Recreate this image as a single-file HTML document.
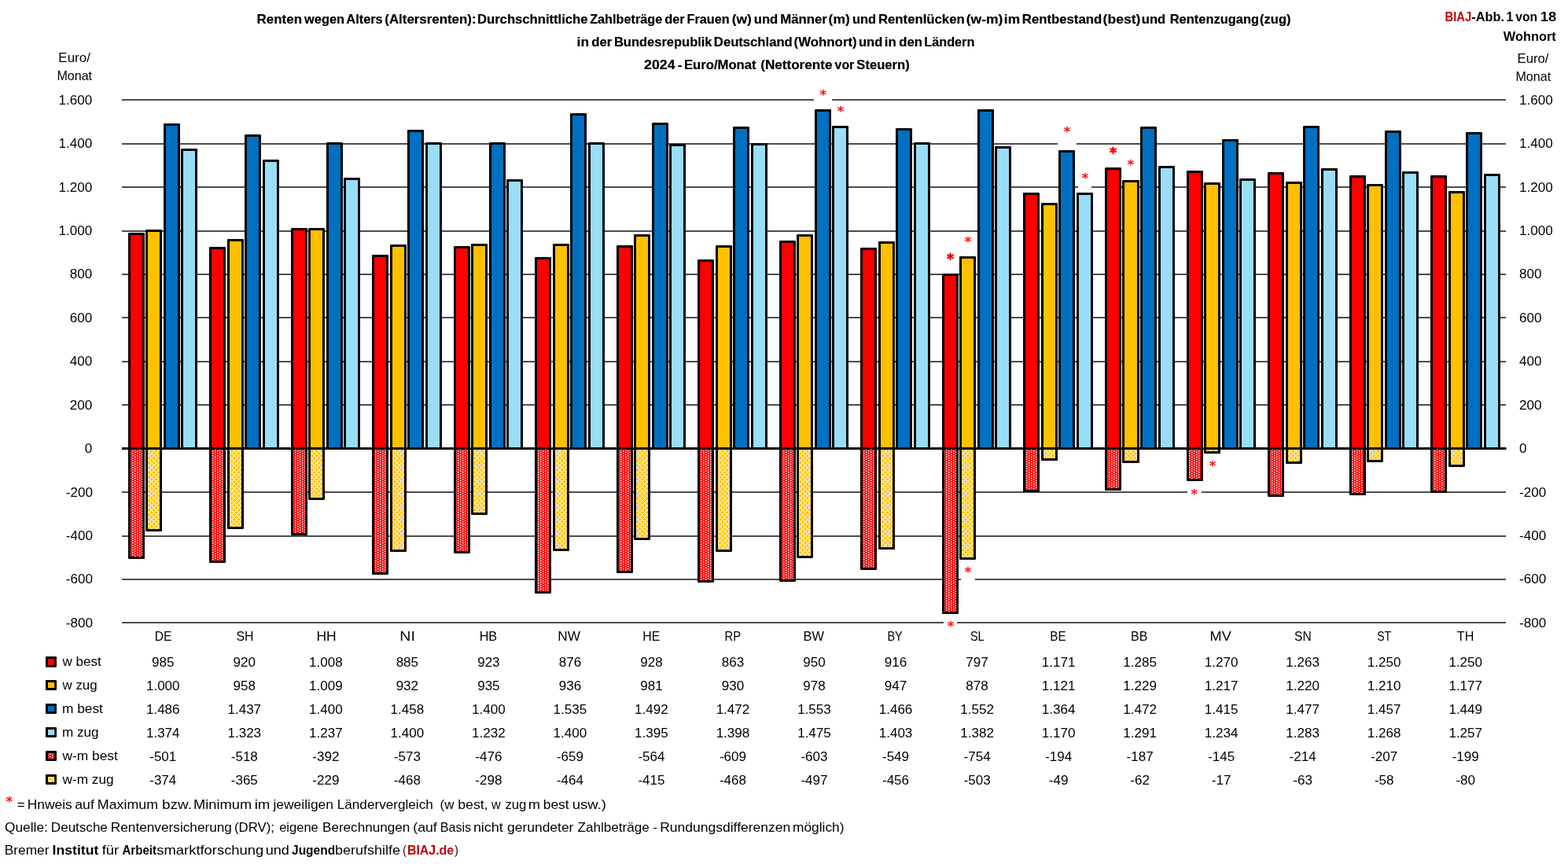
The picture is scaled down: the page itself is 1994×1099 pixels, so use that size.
<!DOCTYPE html>
<html lang="de"><head><meta charset="utf-8"><title>BIAJ-Abb. 1 von 18</title><style>html,body{margin:0;padding:0;background:#fff}body{width:1994px;height:1099px}svg{display:block}text{white-space:pre}</style></head><body>
<svg width="1994" height="1099" viewBox="0 0 1994 1099">
<defs>
<pattern id="pr" width="6" height="3" patternUnits="userSpaceOnUse"><rect width="6" height="3" fill="#FF0000"/><g fill="#fff"><rect x="0" y="0" width="1.5" height="1.5"/><rect x="3" y="1.5" width="1.5" height="1.5"/></g></pattern>
<pattern id="po" width="6" height="6" patternUnits="userSpaceOnUse"><rect width="6" height="6" fill="#FFC000"/><g fill="#fff"><rect x="0" y="0" width="1.5" height="1.5"/><rect x="1.5" y="1.5" width="1.5" height="1.5"/><rect x="4.5" y="1.5" width="1.5" height="1.5"/><rect x="3" y="3" width="1.5" height="1.5"/><rect x="1.5" y="4.5" width="1.5" height="1.5"/><rect x="4.5" y="4.5" width="1.5" height="1.5"/></g></pattern>
</defs>
<rect width="1994" height="1099" fill="#fff"/>
<g fill="#4d4d4d">
<rect x="155" y="126" width="1760" height="2"/>
<rect x="155" y="182" width="1760" height="2"/>
<rect x="155" y="237" width="1760" height="2"/>
<rect x="155" y="293" width="1760" height="2"/>
<rect x="155" y="348" width="1760" height="2"/>
<rect x="155" y="403" width="1760" height="2"/>
<rect x="155" y="459" width="1760" height="2"/>
<rect x="155" y="514" width="1760" height="2"/>
<rect x="155" y="625" width="1760" height="2"/>
<rect x="155" y="681" width="1760" height="2"/>
<rect x="155" y="736" width="1760" height="2"/>
<rect x="155" y="791" width="1760" height="2"/>
</g>
<rect x="1035" y="123" width="23" height="8" fill="#fff"/>
<rect x="1345" y="179" width="24" height="8" fill="#fff"/>
<rect x="1371" y="234" width="17" height="8" fill="#fff"/>
<rect x="1222" y="733" width="18" height="8" fill="#fff"/>
<rect x="1200" y="788" width="17" height="8" fill="#fff"/>
<rect x="1510" y="622" width="18" height="8" fill="#fff"/>
<rect x="163" y="296" width="21" height="276" rx="1.2" fill="#000"/>
<rect x="166" y="299" width="15" height="270" fill="#FF0000"/>
<rect x="185" y="292" width="21" height="280" rx="1.2" fill="#000"/>
<rect x="188" y="295" width="15" height="274" fill="#FFC000"/>
<rect x="208" y="157" width="21" height="415" rx="1.2" fill="#000"/>
<rect x="211" y="160" width="15" height="409" fill="#0070C0"/>
<rect x="230" y="189" width="21" height="383" rx="1.2" fill="#000"/>
<rect x="233" y="192" width="15" height="377" fill="#99DDF7"/>
<rect x="163" y="569" width="21" height="142" rx="1.2" fill="#000"/>
<rect x="166" y="572" width="15" height="136" fill="url(#pr)"/>
<rect x="185" y="569" width="21" height="107" rx="1.2" fill="#000"/>
<rect x="188" y="572" width="15" height="101" fill="url(#po)"/>
<rect x="266" y="314" width="21" height="258" rx="1.2" fill="#000"/>
<rect x="269" y="317" width="15" height="252" fill="#FF0000"/>
<rect x="289" y="304" width="21" height="268" rx="1.2" fill="#000"/>
<rect x="292" y="307" width="15" height="262" fill="#FFC000"/>
<rect x="311" y="171" width="21" height="401" rx="1.2" fill="#000"/>
<rect x="314" y="174" width="15" height="395" fill="#0070C0"/>
<rect x="334" y="203" width="21" height="369" rx="1.2" fill="#000"/>
<rect x="337" y="206" width="15" height="363" fill="#99DDF7"/>
<rect x="266" y="569" width="21" height="147" rx="1.2" fill="#000"/>
<rect x="269" y="572" width="15" height="141" fill="url(#pr)"/>
<rect x="289" y="569" width="21" height="104" rx="1.2" fill="#000"/>
<rect x="292" y="572" width="15" height="98" fill="url(#po)"/>
<rect x="370" y="290" width="21" height="282" rx="1.2" fill="#000"/>
<rect x="373" y="293" width="15" height="276" fill="#FF0000"/>
<rect x="392" y="290" width="21" height="282" rx="1.2" fill="#000"/>
<rect x="395" y="293" width="15" height="276" fill="#FFC000"/>
<rect x="415" y="181" width="21" height="391" rx="1.2" fill="#000"/>
<rect x="418" y="184" width="15" height="385" fill="#0070C0"/>
<rect x="437" y="226" width="21" height="346" rx="1.2" fill="#000"/>
<rect x="440" y="229" width="15" height="340" fill="#99DDF7"/>
<rect x="370" y="569" width="21" height="112" rx="1.2" fill="#000"/>
<rect x="373" y="572" width="15" height="106" fill="url(#pr)"/>
<rect x="392" y="569" width="21" height="67" rx="1.2" fill="#000"/>
<rect x="395" y="572" width="15" height="61" fill="url(#po)"/>
<rect x="473" y="324" width="21" height="248" rx="1.2" fill="#000"/>
<rect x="476" y="327" width="15" height="242" fill="#FF0000"/>
<rect x="496" y="311" width="21" height="261" rx="1.2" fill="#000"/>
<rect x="499" y="314" width="15" height="255" fill="#FFC000"/>
<rect x="518" y="165" width="21" height="407" rx="1.2" fill="#000"/>
<rect x="521" y="168" width="15" height="401" fill="#0070C0"/>
<rect x="541" y="181" width="21" height="391" rx="1.2" fill="#000"/>
<rect x="544" y="184" width="15" height="385" fill="#99DDF7"/>
<rect x="473" y="569" width="21" height="162" rx="1.2" fill="#000"/>
<rect x="476" y="572" width="15" height="156" fill="url(#pr)"/>
<rect x="496" y="569" width="21" height="133" rx="1.2" fill="#000"/>
<rect x="499" y="572" width="15" height="127" fill="url(#po)"/>
<rect x="577" y="313" width="21" height="259" rx="1.2" fill="#000"/>
<rect x="580" y="316" width="15" height="253" fill="#FF0000"/>
<rect x="599" y="310" width="21" height="262" rx="1.2" fill="#000"/>
<rect x="602" y="313" width="15" height="256" fill="#FFC000"/>
<rect x="622" y="181" width="21" height="391" rx="1.2" fill="#000"/>
<rect x="625" y="184" width="15" height="385" fill="#0070C0"/>
<rect x="644" y="228" width="21" height="344" rx="1.2" fill="#000"/>
<rect x="647" y="231" width="15" height="338" fill="#99DDF7"/>
<rect x="577" y="569" width="21" height="135" rx="1.2" fill="#000"/>
<rect x="580" y="572" width="15" height="129" fill="url(#pr)"/>
<rect x="599" y="569" width="21" height="86" rx="1.2" fill="#000"/>
<rect x="602" y="572" width="15" height="80" fill="url(#po)"/>
<rect x="680" y="327" width="21" height="245" rx="1.2" fill="#000"/>
<rect x="683" y="330" width="15" height="239" fill="#FF0000"/>
<rect x="703" y="310" width="21" height="262" rx="1.2" fill="#000"/>
<rect x="706" y="313" width="15" height="256" fill="#FFC000"/>
<rect x="725" y="144" width="21" height="428" rx="1.2" fill="#000"/>
<rect x="728" y="147" width="15" height="422" fill="#0070C0"/>
<rect x="748" y="181" width="21" height="391" rx="1.2" fill="#000"/>
<rect x="751" y="184" width="15" height="385" fill="#99DDF7"/>
<rect x="680" y="569" width="21" height="186" rx="1.2" fill="#000"/>
<rect x="683" y="572" width="15" height="180" fill="url(#pr)"/>
<rect x="703" y="569" width="21" height="132" rx="1.2" fill="#000"/>
<rect x="706" y="572" width="15" height="126" fill="url(#po)"/>
<rect x="784" y="312" width="21" height="260" rx="1.2" fill="#000"/>
<rect x="787" y="315" width="15" height="254" fill="#FF0000"/>
<rect x="806" y="298" width="21" height="274" rx="1.2" fill="#000"/>
<rect x="809" y="301" width="15" height="268" fill="#FFC000"/>
<rect x="829" y="156" width="21" height="416" rx="1.2" fill="#000"/>
<rect x="832" y="159" width="15" height="410" fill="#0070C0"/>
<rect x="851" y="183" width="21" height="389" rx="1.2" fill="#000"/>
<rect x="854" y="186" width="15" height="383" fill="#99DDF7"/>
<rect x="784" y="569" width="21" height="160" rx="1.2" fill="#000"/>
<rect x="787" y="572" width="15" height="154" fill="url(#pr)"/>
<rect x="806" y="569" width="21" height="118" rx="1.2" fill="#000"/>
<rect x="809" y="572" width="15" height="112" fill="url(#po)"/>
<rect x="887" y="330" width="21" height="242" rx="1.2" fill="#000"/>
<rect x="890" y="333" width="15" height="236" fill="#FF0000"/>
<rect x="910" y="312" width="21" height="260" rx="1.2" fill="#000"/>
<rect x="913" y="315" width="15" height="254" fill="#FFC000"/>
<rect x="932" y="161" width="21" height="411" rx="1.2" fill="#000"/>
<rect x="935" y="164" width="15" height="405" fill="#0070C0"/>
<rect x="955" y="182" width="21" height="390" rx="1.2" fill="#000"/>
<rect x="958" y="185" width="15" height="384" fill="#99DDF7"/>
<rect x="887" y="569" width="21" height="172" rx="1.2" fill="#000"/>
<rect x="890" y="572" width="15" height="166" fill="url(#pr)"/>
<rect x="910" y="569" width="21" height="133" rx="1.2" fill="#000"/>
<rect x="913" y="572" width="15" height="127" fill="url(#po)"/>
<rect x="991" y="306" width="21" height="266" rx="1.2" fill="#000"/>
<rect x="994" y="309" width="15" height="260" fill="#FF0000"/>
<rect x="1013" y="298" width="21" height="274" rx="1.2" fill="#000"/>
<rect x="1016" y="301" width="15" height="268" fill="#FFC000"/>
<rect x="1036" y="139" width="21" height="433" rx="1.2" fill="#000"/>
<rect x="1039" y="142" width="15" height="427" fill="#0070C0"/>
<rect x="1058" y="160" width="21" height="412" rx="1.2" fill="#000"/>
<rect x="1061" y="163" width="15" height="406" fill="#99DDF7"/>
<rect x="991" y="569" width="21" height="171" rx="1.2" fill="#000"/>
<rect x="994" y="572" width="15" height="165" fill="url(#pr)"/>
<rect x="1013" y="569" width="21" height="141" rx="1.2" fill="#000"/>
<rect x="1016" y="572" width="15" height="135" fill="url(#po)"/>
<rect x="1094" y="315" width="21" height="257" rx="1.2" fill="#000"/>
<rect x="1097" y="318" width="15" height="251" fill="#FF0000"/>
<rect x="1117" y="307" width="21" height="265" rx="1.2" fill="#000"/>
<rect x="1120" y="310" width="15" height="259" fill="#FFC000"/>
<rect x="1139" y="163" width="21" height="409" rx="1.2" fill="#000"/>
<rect x="1142" y="166" width="15" height="403" fill="#0070C0"/>
<rect x="1162" y="181" width="21" height="391" rx="1.2" fill="#000"/>
<rect x="1165" y="184" width="15" height="385" fill="#99DDF7"/>
<rect x="1094" y="569" width="21" height="156" rx="1.2" fill="#000"/>
<rect x="1097" y="572" width="15" height="150" fill="url(#pr)"/>
<rect x="1117" y="569" width="21" height="130" rx="1.2" fill="#000"/>
<rect x="1120" y="572" width="15" height="124" fill="url(#po)"/>
<rect x="1198" y="348" width="21" height="224" rx="1.2" fill="#000"/>
<rect x="1201" y="351" width="15" height="218" fill="#FF0000"/>
<rect x="1220" y="326" width="21" height="246" rx="1.2" fill="#000"/>
<rect x="1223" y="329" width="15" height="240" fill="#FFC000"/>
<rect x="1243" y="139" width="21" height="433" rx="1.2" fill="#000"/>
<rect x="1246" y="142" width="15" height="427" fill="#0070C0"/>
<rect x="1265" y="186" width="21" height="386" rx="1.2" fill="#000"/>
<rect x="1268" y="189" width="15" height="380" fill="#99DDF7"/>
<rect x="1198" y="569" width="21" height="212" rx="1.2" fill="#000"/>
<rect x="1201" y="572" width="15" height="206" fill="url(#pr)"/>
<rect x="1220" y="569" width="21" height="143" rx="1.2" fill="#000"/>
<rect x="1223" y="572" width="15" height="137" fill="url(#po)"/>
<rect x="1301" y="245" width="21" height="327" rx="1.2" fill="#000"/>
<rect x="1304" y="248" width="15" height="321" fill="#FF0000"/>
<rect x="1324" y="258" width="21" height="314" rx="1.2" fill="#000"/>
<rect x="1327" y="261" width="15" height="308" fill="#FFC000"/>
<rect x="1346" y="191" width="21" height="381" rx="1.2" fill="#000"/>
<rect x="1349" y="194" width="15" height="375" fill="#0070C0"/>
<rect x="1369" y="245" width="21" height="327" rx="1.2" fill="#000"/>
<rect x="1372" y="248" width="15" height="321" fill="#99DDF7"/>
<rect x="1301" y="569" width="21" height="57" rx="1.2" fill="#000"/>
<rect x="1304" y="572" width="15" height="51" fill="url(#pr)"/>
<rect x="1324" y="569" width="21" height="17" rx="1.2" fill="#000"/>
<rect x="1327" y="572" width="15" height="11" fill="url(#po)"/>
<rect x="1405" y="213" width="21" height="359" rx="1.2" fill="#000"/>
<rect x="1408" y="216" width="15" height="353" fill="#FF0000"/>
<rect x="1427" y="229" width="22" height="343" rx="1.2" fill="#000"/>
<rect x="1430" y="232" width="16" height="337" fill="#FFC000"/>
<rect x="1450" y="161" width="21" height="411" rx="1.2" fill="#000"/>
<rect x="1453" y="164" width="15" height="405" fill="#0070C0"/>
<rect x="1473" y="211" width="21" height="361" rx="1.2" fill="#000"/>
<rect x="1476" y="214" width="15" height="355" fill="#99DDF7"/>
<rect x="1405" y="569" width="21" height="55" rx="1.2" fill="#000"/>
<rect x="1408" y="572" width="15" height="49" fill="url(#pr)"/>
<rect x="1427" y="569" width="22" height="20" rx="1.2" fill="#000"/>
<rect x="1430" y="572" width="16" height="14" fill="url(#po)"/>
<rect x="1509" y="217" width="21" height="355" rx="1.2" fill="#000"/>
<rect x="1512" y="220" width="15" height="349" fill="#FF0000"/>
<rect x="1531" y="232" width="21" height="340" rx="1.2" fill="#000"/>
<rect x="1534" y="235" width="15" height="334" fill="#FFC000"/>
<rect x="1554" y="177" width="21" height="395" rx="1.2" fill="#000"/>
<rect x="1557" y="180" width="15" height="389" fill="#0070C0"/>
<rect x="1576" y="227" width="21" height="345" rx="1.2" fill="#000"/>
<rect x="1579" y="230" width="15" height="339" fill="#99DDF7"/>
<rect x="1509" y="569" width="21" height="43" rx="1.2" fill="#000"/>
<rect x="1512" y="572" width="15" height="37" fill="url(#pr)"/>
<rect x="1531" y="569" width="21" height="8" rx="1.2" fill="#000"/>
<rect x="1534" y="572" width="15" height="2" fill="url(#po)"/>
<rect x="1612" y="219" width="21" height="353" rx="1.2" fill="#000"/>
<rect x="1615" y="222" width="15" height="347" fill="#FF0000"/>
<rect x="1635" y="231" width="21" height="341" rx="1.2" fill="#000"/>
<rect x="1638" y="234" width="15" height="335" fill="#FFC000"/>
<rect x="1657" y="160" width="21" height="412" rx="1.2" fill="#000"/>
<rect x="1660" y="163" width="15" height="406" fill="#0070C0"/>
<rect x="1680" y="214" width="21" height="358" rx="1.2" fill="#000"/>
<rect x="1683" y="217" width="15" height="352" fill="#99DDF7"/>
<rect x="1612" y="569" width="21" height="63" rx="1.2" fill="#000"/>
<rect x="1615" y="572" width="15" height="57" fill="url(#pr)"/>
<rect x="1635" y="569" width="21" height="21" rx="1.2" fill="#000"/>
<rect x="1638" y="572" width="15" height="15" fill="url(#po)"/>
<rect x="1716" y="223" width="21" height="349" rx="1.2" fill="#000"/>
<rect x="1719" y="226" width="15" height="343" fill="#FF0000"/>
<rect x="1738" y="234" width="21" height="338" rx="1.2" fill="#000"/>
<rect x="1741" y="237" width="15" height="332" fill="#FFC000"/>
<rect x="1761" y="166" width="21" height="406" rx="1.2" fill="#000"/>
<rect x="1764" y="169" width="15" height="400" fill="#0070C0"/>
<rect x="1783" y="218" width="21" height="354" rx="1.2" fill="#000"/>
<rect x="1786" y="221" width="15" height="348" fill="#99DDF7"/>
<rect x="1716" y="569" width="21" height="61" rx="1.2" fill="#000"/>
<rect x="1719" y="572" width="15" height="55" fill="url(#pr)"/>
<rect x="1738" y="569" width="21" height="19" rx="1.2" fill="#000"/>
<rect x="1741" y="572" width="15" height="13" fill="url(#po)"/>
<rect x="1819" y="223" width="21" height="349" rx="1.2" fill="#000"/>
<rect x="1822" y="226" width="15" height="343" fill="#FF0000"/>
<rect x="1842" y="243" width="21" height="329" rx="1.2" fill="#000"/>
<rect x="1845" y="246" width="15" height="323" fill="#FFC000"/>
<rect x="1864" y="168" width="21" height="404" rx="1.2" fill="#000"/>
<rect x="1867" y="171" width="15" height="398" fill="#0070C0"/>
<rect x="1887" y="221" width="21" height="351" rx="1.2" fill="#000"/>
<rect x="1890" y="224" width="15" height="345" fill="#99DDF7"/>
<rect x="1819" y="569" width="21" height="58" rx="1.2" fill="#000"/>
<rect x="1822" y="572" width="15" height="52" fill="url(#pr)"/>
<rect x="1842" y="569" width="21" height="25" rx="1.2" fill="#000"/>
<rect x="1845" y="572" width="15" height="19" fill="url(#po)"/>
<rect x="155" y="569" width="1760.5" height="3" fill="#000"/>
<rect x="58" y="835" width="14" height="13.8" rx="1" fill="#000"/>
<rect x="61" y="838" width="8.2" height="7.8" fill="#FF0000"/>
<rect x="58" y="865" width="14" height="13" rx="1" fill="#000"/>
<rect x="61" y="868" width="8.2" height="7" fill="#FFC000"/>
<rect x="58" y="895" width="14" height="13" rx="1" fill="#000"/>
<rect x="61" y="898" width="8.2" height="7" fill="#0070C0"/>
<rect x="58" y="925" width="14" height="13" rx="1" fill="#000"/>
<rect x="61" y="928" width="8.2" height="7" fill="#99DDF7"/>
<rect x="58" y="955" width="14" height="13" rx="1" fill="#000"/>
<rect x="61" y="958" width="8.2" height="7" fill="url(#pr)"/>
<rect x="58" y="985" width="14" height="13" rx="1" fill="#000"/>
<rect x="61" y="988" width="8.2" height="7" fill="url(#po)"/>
<g font-family='"Liberation Sans", sans-serif'>
<text transform="matrix(1.0341 0 0 1 326.54 29.8)" font-size="16.4" font-weight="bold" stroke="#000" stroke-width="0.2">Renten</text>
<text transform="matrix(1.0001 0 0 1 387.06 29.8)" font-size="16.4" font-weight="bold" stroke="#000" stroke-width="0.2">wegen</text>
<text transform="matrix(0.9986 0 0 1 440.34 29.8)" font-size="16.4" font-weight="bold" stroke="#000" stroke-width="0.2">Alters</text>
<text transform="matrix(1.0301 0 0 1 489.31 29.8)" font-size="16.4" font-weight="bold" stroke="#000" stroke-width="0.2">(Altersrenten):</text>
<text transform="matrix(1.0155 0 0 1 606.96 29.8)" font-size="16.4" font-weight="bold" stroke="#000" stroke-width="0.2">Durchschnittliche</text>
<text transform="matrix(0.9914 0 0 1 750.15 29.8)" font-size="16.4" font-weight="bold" stroke="#000" stroke-width="0.2">Zahlbeträge</text>
<text transform="matrix(1.0010 0 0 1 845.19 29.8)" font-size="16.4" font-weight="bold" stroke="#000" stroke-width="0.2">der</text>
<text transform="matrix(0.9913 0 0 1 873.58 29.8)" font-size="16.4" font-weight="bold" stroke="#000" stroke-width="0.2">Frauen</text>
<text transform="matrix(1.0664 0 0 1 930.68 29.8)" font-size="16.4" font-weight="bold" stroke="#000" stroke-width="0.2">(w)</text>
<text transform="matrix(1.0164 0 0 1 958.72 29.8)" font-size="16.4" font-weight="bold" stroke="#000" stroke-width="0.2">und</text>
<text transform="matrix(1.0252 0 0 1 992.15 29.8)" font-size="16.4" font-weight="bold" stroke="#000" stroke-width="0.2">Männer</text>
<text transform="matrix(1.0645 0 0 1 1053.58 29.8)" font-size="16.4" font-weight="bold" stroke="#000" stroke-width="0.2">(m)</text>
<text transform="matrix(1.0023 0 0 1 1084.03 29.8)" font-size="16.4" font-weight="bold" stroke="#000" stroke-width="0.2">und</text>
<text transform="matrix(1.0216 0 0 1 1116.95 29.8)" font-size="16.4" font-weight="bold" stroke="#000" stroke-width="0.2">Rentenlücken</text>
<text transform="matrix(1.0647 0 0 1 1228.78 29.8)" font-size="16.4" font-weight="bold" stroke="#000" stroke-width="0.2">(w-m)</text>
<text transform="matrix(1.0577 0 0 1 1276.82 29.8)" font-size="16.4" font-weight="bold" stroke="#000" stroke-width="0.2">im</text>
<text transform="matrix(1.0211 0 0 1 1299.85 29.8)" font-size="16.4" font-weight="bold" stroke="#000" stroke-width="0.2">Rentbestand</text>
<text transform="matrix(1.0720 0 0 1 1402.58 29.8)" font-size="16.4" font-weight="bold" stroke="#000" stroke-width="0.2">(best)</text>
<text transform="matrix(1.0094 0 0 1 1451.82 29.8)" font-size="16.4" font-weight="bold" stroke="#000" stroke-width="0.2">und</text>
<text transform="matrix(1.0045 0 0 1 1487.67 29.8)" font-size="16.4" font-weight="bold" stroke="#000" stroke-width="0.2">Rentenzugang</text>
<text transform="matrix(1.0080 0 0 1 1602.03 29.8)" font-size="16.4" font-weight="bold" stroke="#000" stroke-width="0.2">(zug)</text>
<text transform="matrix(1.0583 0 0 1 733.62 58.7)" font-size="16.4" font-weight="bold" stroke="#000" stroke-width="0.2">in</text>
<text transform="matrix(1.0171 0 0 1 752.28 58.7)" font-size="16.4" font-weight="bold" stroke="#000" stroke-width="0.2">der</text>
<text transform="matrix(1.0056 0 0 1 780.97 58.7)" font-size="16.4" font-weight="bold" stroke="#000" stroke-width="0.2">Bundesrepublik</text>
<text transform="matrix(1.0162 0 0 1 907.86 58.7)" font-size="16.4" font-weight="bold" stroke="#000" stroke-width="0.2">Deutschland</text>
<text transform="matrix(1.0266 0 0 1 1009.61 58.7)" font-size="16.4" font-weight="bold" stroke="#000" stroke-width="0.2">(Wohnort)</text>
<text transform="matrix(1.0094 0 0 1 1091.92 58.7)" font-size="16.4" font-weight="bold" stroke="#000" stroke-width="0.2">und</text>
<text transform="matrix(1.0269 0 0 1 1124.75 58.7)" font-size="16.4" font-weight="bold" stroke="#000" stroke-width="0.2">in</text>
<text transform="matrix(1.0197 0 0 1 1143.28 58.7)" font-size="16.4" font-weight="bold" stroke="#000" stroke-width="0.2">den</text>
<text transform="matrix(0.9908 0 0 1 1175.28 58.7)" font-size="16.4" font-weight="bold" stroke="#000" stroke-width="0.2">Ländern</text>
<text transform="matrix(1.0838 0 0 1 819.04 87.9)" font-size="16.4" font-weight="bold" stroke="#000" stroke-width="0.2">2024</text>
<text transform="matrix(1.0560 0 0 1 861.76 87.9)" font-size="16.4" font-weight="bold" stroke="#000" stroke-width="0.2">-</text>
<text transform="matrix(1.0170 0 0 1 869.96 87.9)" font-size="16.4" font-weight="bold" stroke="#000" stroke-width="0.2">Euro/Monat</text>
<text transform="matrix(1.0441 0 0 1 967.2 87.9)" font-size="16.4" font-weight="bold" stroke="#000" stroke-width="0.2">(Nettorente</text>
<text transform="matrix(0.9649 0 0 1 1061.6 87.9)" font-size="16.4" font-weight="bold" stroke="#000" stroke-width="0.2">vor</text>
<text transform="matrix(1.0126 0 0 1 1089.34 87.9)" font-size="16.4" font-weight="bold" stroke="#000" stroke-width="0.2">Steuern)</text>
<text transform="matrix(0.8898 0 0 1 1837.48 26.8)" font-size="16.6" font-weight="bold" fill="#C00000">BIAJ</text>
<text transform="matrix(0.9851 0 0 1 1871.29 26.8)" font-size="16.6" font-weight="bold">-Abb.</text>
<text transform="matrix(0.9639 0 0 1 1915.4 26.8)" font-size="16.6" font-weight="bold">1</text>
<text transform="matrix(0.9439 0 0 1 1927.2 26.8)" font-size="16.6" font-weight="bold">von</text>
<text transform="matrix(1.1050 0 0 1 1958.85 26.8)" font-size="16.6" font-weight="bold">18</text>
<text transform="matrix(0.9892 0 0 1 1911.7 51.9)" font-size="16.6" font-weight="bold">Wohnort</text>
<text transform="matrix(1.0227 0 0 1 74.32 78.9)" font-size="16.6">Euro/</text>
<text transform="matrix(0.9687 0 0 1 72.38 101.95)" font-size="16.6">Monat</text>
<text transform="matrix(1.0069 0 0 1 1929.59 79.7)" font-size="16.6">Euro/</text>
<text transform="matrix(0.9711 0 0 1 1927.44 103)" font-size="16.6">Monat</text>
<text transform="matrix(1.0430 0 0 1 74.47 132.8)" font-size="16.4">1.600</text>
<text transform="matrix(1.0430 0 0 1 1932 132.8)" font-size="16.4">1.600</text>
<text transform="matrix(1.0430 0 0 1 74.47 188.22)" font-size="16.4">1.400</text>
<text transform="matrix(1.0430 0 0 1 1932 188.22)" font-size="16.4">1.400</text>
<text transform="matrix(1.0430 0 0 1 74.47 243.64)" font-size="16.4">1.200</text>
<text transform="matrix(1.0430 0 0 1 1932 243.64)" font-size="16.4">1.200</text>
<text transform="matrix(1.0430 0 0 1 74.47 299.06)" font-size="16.4">1.000</text>
<text transform="matrix(1.0430 0 0 1 1932 299.06)" font-size="16.4">1.000</text>
<text transform="matrix(1.0430 0 0 1 88.74 354.48)" font-size="16.4">800</text>
<text transform="matrix(1.0430 0 0 1 1932 354.48)" font-size="16.4">800</text>
<text transform="matrix(1.0430 0 0 1 88.74 409.9)" font-size="16.4">600</text>
<text transform="matrix(1.0430 0 0 1 1932 409.9)" font-size="16.4">600</text>
<text transform="matrix(1.0430 0 0 1 88.74 465.32)" font-size="16.4">400</text>
<text transform="matrix(1.0430 0 0 1 1932 465.32)" font-size="16.4">400</text>
<text transform="matrix(1.0430 0 0 1 88.74 520.74)" font-size="16.4">200</text>
<text transform="matrix(1.0430 0 0 1 1932 520.74)" font-size="16.4">200</text>
<text transform="matrix(1.0430 0 0 1 107.76 576.16)" font-size="16.4">0</text>
<text transform="matrix(1.0430 0 0 1 1932 576.16)" font-size="16.4">0</text>
<text transform="matrix(1.0430 0 0 1 83.79 631.58)" font-size="16.4">-200</text>
<text transform="matrix(1.0430 0 0 1 1932 631.58)" font-size="16.4">-200</text>
<text transform="matrix(1.0430 0 0 1 83.79 687)" font-size="16.4">-400</text>
<text transform="matrix(1.0430 0 0 1 1932 687)" font-size="16.4">-400</text>
<text transform="matrix(1.0430 0 0 1 83.79 742.42)" font-size="16.4">-600</text>
<text transform="matrix(1.0430 0 0 1 1932 742.42)" font-size="16.4">-600</text>
<text transform="matrix(1.0430 0 0 1 83.79 797.84)" font-size="16.4">-800</text>
<text transform="matrix(1.0430 0 0 1 1932 797.84)" font-size="16.4">-800</text>
<text transform="matrix(0.9514 0 0 1 196.78 815.1)" font-size="16.4">DE</text>
<text transform="matrix(1.0400 0 0 1 193.04 847.6)" font-size="16.4">985</text>
<text transform="matrix(1.0400 0 0 1 185.92 877.6)" font-size="16.4">1.000</text>
<text transform="matrix(1.0400 0 0 1 185.92 907.6)" font-size="16.4">1.486</text>
<text transform="matrix(1.0400 0 0 1 185.92 937.6)" font-size="16.4">1.374</text>
<text transform="matrix(1.0400 0 0 1 190.2 967.6)" font-size="16.4">-501</text>
<text transform="matrix(1.0400 0 0 1 190.2 997.6)" font-size="16.4">-374</text>
<text transform="matrix(0.9650 0 0 1 300.51 815.1)" font-size="16.4">SH</text>
<text transform="matrix(1.0400 0 0 1 296.57 847.6)" font-size="16.4">920</text>
<text transform="matrix(1.0400 0 0 1 296.57 877.6)" font-size="16.4">958</text>
<text transform="matrix(1.0400 0 0 1 289.45 907.6)" font-size="16.4">1.437</text>
<text transform="matrix(1.0400 0 0 1 289.45 937.6)" font-size="16.4">1.323</text>
<text transform="matrix(1.0400 0 0 1 293.73 967.6)" font-size="16.4">-518</text>
<text transform="matrix(1.0400 0 0 1 293.73 997.6)" font-size="16.4">-365</text>
<text transform="matrix(1.0679 0 0 1 402.43 815.1)" font-size="16.4">HH</text>
<text transform="matrix(1.0400 0 0 1 392.98 847.6)" font-size="16.4">1.008</text>
<text transform="matrix(1.0400 0 0 1 392.98 877.6)" font-size="16.4">1.009</text>
<text transform="matrix(1.0400 0 0 1 392.98 907.6)" font-size="16.4">1.400</text>
<text transform="matrix(1.0400 0 0 1 392.98 937.6)" font-size="16.4">1.237</text>
<text transform="matrix(1.0400 0 0 1 397.26 967.6)" font-size="16.4">-392</text>
<text transform="matrix(1.0400 0 0 1 397.26 997.6)" font-size="16.4">-229</text>
<text transform="matrix(1.1953 0 0 1 508.27 815.1)" font-size="16.4">NI</text>
<text transform="matrix(1.0400 0 0 1 503.63 847.6)" font-size="16.4">885</text>
<text transform="matrix(1.0400 0 0 1 503.63 877.6)" font-size="16.4">932</text>
<text transform="matrix(1.0400 0 0 1 496.51 907.6)" font-size="16.4">1.458</text>
<text transform="matrix(1.0400 0 0 1 496.51 937.6)" font-size="16.4">1.400</text>
<text transform="matrix(1.0400 0 0 1 500.79 967.6)" font-size="16.4">-573</text>
<text transform="matrix(1.0400 0 0 1 500.79 997.6)" font-size="16.4">-468</text>
<text transform="matrix(0.9898 0 0 1 609.63 815.1)" font-size="16.4">HB</text>
<text transform="matrix(1.0400 0 0 1 607.16 847.6)" font-size="16.4">923</text>
<text transform="matrix(1.0400 0 0 1 607.16 877.6)" font-size="16.4">935</text>
<text transform="matrix(1.0400 0 0 1 600.04 907.6)" font-size="16.4">1.400</text>
<text transform="matrix(1.0400 0 0 1 600.04 937.6)" font-size="16.4">1.232</text>
<text transform="matrix(1.0400 0 0 1 604.32 967.6)" font-size="16.4">-476</text>
<text transform="matrix(1.0400 0 0 1 604.32 997.6)" font-size="16.4">-298</text>
<text transform="matrix(1.0537 0 0 1 709.35 815.1)" font-size="16.4">NW</text>
<text transform="matrix(1.0400 0 0 1 710.69 847.6)" font-size="16.4">876</text>
<text transform="matrix(1.0400 0 0 1 710.69 877.6)" font-size="16.4">936</text>
<text transform="matrix(1.0400 0 0 1 703.57 907.6)" font-size="16.4">1.535</text>
<text transform="matrix(1.0400 0 0 1 703.57 937.6)" font-size="16.4">1.400</text>
<text transform="matrix(1.0400 0 0 1 707.85 967.6)" font-size="16.4">-659</text>
<text transform="matrix(1.0400 0 0 1 707.85 997.6)" font-size="16.4">-464</text>
<text transform="matrix(0.9658 0 0 1 817.26 815.1)" font-size="16.4">HE</text>
<text transform="matrix(1.0400 0 0 1 814.22 847.6)" font-size="16.4">928</text>
<text transform="matrix(1.0400 0 0 1 814.22 877.6)" font-size="16.4">981</text>
<text transform="matrix(1.0400 0 0 1 807.1 907.6)" font-size="16.4">1.492</text>
<text transform="matrix(1.0400 0 0 1 807.1 937.6)" font-size="16.4">1.395</text>
<text transform="matrix(1.0400 0 0 1 811.38 967.6)" font-size="16.4">-564</text>
<text transform="matrix(1.0400 0 0 1 811.38 997.6)" font-size="16.4">-415</text>
<text transform="matrix(0.9033 0 0 1 921.44 815.1)" font-size="16.4">RP</text>
<text transform="matrix(1.0400 0 0 1 917.75 847.6)" font-size="16.4">863</text>
<text transform="matrix(1.0400 0 0 1 917.75 877.6)" font-size="16.4">930</text>
<text transform="matrix(1.0400 0 0 1 910.63 907.6)" font-size="16.4">1.472</text>
<text transform="matrix(1.0400 0 0 1 910.63 937.6)" font-size="16.4">1.398</text>
<text transform="matrix(1.0400 0 0 1 914.91 967.6)" font-size="16.4">-609</text>
<text transform="matrix(1.0400 0 0 1 914.91 997.6)" font-size="16.4">-468</text>
<text transform="matrix(1.0004 0 0 1 1021.62 815.1)" font-size="16.4">BW</text>
<text transform="matrix(1.0400 0 0 1 1021.28 847.6)" font-size="16.4">950</text>
<text transform="matrix(1.0400 0 0 1 1021.28 877.6)" font-size="16.4">978</text>
<text transform="matrix(1.0400 0 0 1 1014.16 907.6)" font-size="16.4">1.553</text>
<text transform="matrix(1.0400 0 0 1 1014.16 937.6)" font-size="16.4">1.475</text>
<text transform="matrix(1.0400 0 0 1 1018.44 967.6)" font-size="16.4">-603</text>
<text transform="matrix(1.0400 0 0 1 1018.44 997.6)" font-size="16.4">-497</text>
<text transform="matrix(0.8815 0 0 1 1128.47 815.1)" font-size="16.4">BY</text>
<text transform="matrix(1.0400 0 0 1 1124.81 847.6)" font-size="16.4">916</text>
<text transform="matrix(1.0400 0 0 1 1124.81 877.6)" font-size="16.4">947</text>
<text transform="matrix(1.0400 0 0 1 1117.69 907.6)" font-size="16.4">1.466</text>
<text transform="matrix(1.0400 0 0 1 1117.69 937.6)" font-size="16.4">1.403</text>
<text transform="matrix(1.0400 0 0 1 1121.97 967.6)" font-size="16.4">-549</text>
<text transform="matrix(1.0400 0 0 1 1121.97 997.6)" font-size="16.4">-456</text>
<text transform="matrix(0.8778 0 0 1 1233.95 815.1)" font-size="16.4">SL</text>
<text transform="matrix(1.0400 0 0 1 1228.34 847.6)" font-size="16.4">797</text>
<text transform="matrix(1.0400 0 0 1 1228.34 877.6)" font-size="16.4">878</text>
<text transform="matrix(1.0400 0 0 1 1221.22 907.6)" font-size="16.4">1.552</text>
<text transform="matrix(1.0400 0 0 1 1221.22 937.6)" font-size="16.4">1.382</text>
<text transform="matrix(1.0400 0 0 1 1225.5 967.6)" font-size="16.4">-754</text>
<text transform="matrix(1.0400 0 0 1 1225.5 997.6)" font-size="16.4">-503</text>
<text transform="matrix(0.9293 0 0 1 1335.31 815.1)" font-size="16.4">BE</text>
<text transform="matrix(1.0400 0 0 1 1324.75 847.6)" font-size="16.4">1.171</text>
<text transform="matrix(1.0400 0 0 1 1324.75 877.6)" font-size="16.4">1.121</text>
<text transform="matrix(1.0400 0 0 1 1324.75 907.6)" font-size="16.4">1.364</text>
<text transform="matrix(1.0400 0 0 1 1324.75 937.6)" font-size="16.4">1.170</text>
<text transform="matrix(1.0400 0 0 1 1329.03 967.6)" font-size="16.4">-194</text>
<text transform="matrix(1.0400 0 0 1 1333.77 997.6)" font-size="16.4">-49</text>
<text transform="matrix(0.9695 0 0 1 1438.06 815.1)" font-size="16.4">BB</text>
<text transform="matrix(1.0400 0 0 1 1428.28 847.6)" font-size="16.4">1.285</text>
<text transform="matrix(1.0400 0 0 1 1428.28 877.6)" font-size="16.4">1.229</text>
<text transform="matrix(1.0400 0 0 1 1428.28 907.6)" font-size="16.4">1.472</text>
<text transform="matrix(1.0400 0 0 1 1428.28 937.6)" font-size="16.4">1.291</text>
<text transform="matrix(1.0400 0 0 1 1432.56 967.6)" font-size="16.4">-187</text>
<text transform="matrix(1.0400 0 0 1 1437.3 997.6)" font-size="16.4">-62</text>
<text transform="matrix(1.1026 0 0 1 1538.59 815.1)" font-size="16.4">MV</text>
<text transform="matrix(1.0400 0 0 1 1531.81 847.6)" font-size="16.4">1.270</text>
<text transform="matrix(1.0400 0 0 1 1531.81 877.6)" font-size="16.4">1.217</text>
<text transform="matrix(1.0400 0 0 1 1531.81 907.6)" font-size="16.4">1.415</text>
<text transform="matrix(1.0400 0 0 1 1531.81 937.6)" font-size="16.4">1.234</text>
<text transform="matrix(1.0400 0 0 1 1536.09 967.6)" font-size="16.4">-145</text>
<text transform="matrix(1.0400 0 0 1 1540.83 997.6)" font-size="16.4">-17</text>
<text transform="matrix(0.9555 0 0 1 1646.01 815.1)" font-size="16.4">SN</text>
<text transform="matrix(1.0400 0 0 1 1635.34 847.6)" font-size="16.4">1.263</text>
<text transform="matrix(1.0400 0 0 1 1635.34 877.6)" font-size="16.4">1.220</text>
<text transform="matrix(1.0400 0 0 1 1635.34 907.6)" font-size="16.4">1.477</text>
<text transform="matrix(1.0400 0 0 1 1635.34 937.6)" font-size="16.4">1.283</text>
<text transform="matrix(1.0400 0 0 1 1639.62 967.6)" font-size="16.4">-214</text>
<text transform="matrix(1.0400 0 0 1 1644.36 997.6)" font-size="16.4">-63</text>
<text transform="matrix(0.8629 0 0 1 1751.16 815.1)" font-size="16.4">ST</text>
<text transform="matrix(1.0400 0 0 1 1738.87 847.6)" font-size="16.4">1.250</text>
<text transform="matrix(1.0400 0 0 1 1738.87 877.6)" font-size="16.4">1.210</text>
<text transform="matrix(1.0400 0 0 1 1738.87 907.6)" font-size="16.4">1.457</text>
<text transform="matrix(1.0400 0 0 1 1738.87 937.6)" font-size="16.4">1.268</text>
<text transform="matrix(1.0400 0 0 1 1743.15 967.6)" font-size="16.4">-207</text>
<text transform="matrix(1.0400 0 0 1 1747.89 997.6)" font-size="16.4">-58</text>
<text transform="matrix(0.9868 0 0 1 1852.85 815.1)" font-size="16.4">TH</text>
<text transform="matrix(1.0400 0 0 1 1842.4 847.6)" font-size="16.4">1.250</text>
<text transform="matrix(1.0400 0 0 1 1842.4 877.6)" font-size="16.4">1.177</text>
<text transform="matrix(1.0400 0 0 1 1842.4 907.6)" font-size="16.4">1.449</text>
<text transform="matrix(1.0400 0 0 1 1842.4 937.6)" font-size="16.4">1.257</text>
<text transform="matrix(1.0400 0 0 1 1846.68 967.6)" font-size="16.4">-199</text>
<text transform="matrix(1.0400 0 0 1 1851.42 997.6)" font-size="16.4">-80</text>
<text transform="matrix(1.0396 0 0 1 79.47 847.2)" font-size="16.4">w best</text>
<text transform="matrix(1.0325 0 0 1 79.46 877.2)" font-size="16.4">w zug</text>
<text transform="matrix(1.0571 0 0 1 78.92 907.2)" font-size="16.4">m best</text>
<text transform="matrix(1.0442 0 0 1 78.93 937.2)" font-size="16.4">m zug</text>
<text transform="matrix(1.0579 0 0 1 79.47 967.2)" font-size="16.4">w-m best</text>
<text transform="matrix(1.0522 0 0 1 79.47 997.2)" font-size="16.4">w-m zug</text>
<text transform="matrix(1.0241 0 0 1 21.8 1029.1)" font-size="16.6">=</text>
<text transform="matrix(1.0492 0 0 1 34.74 1029.1)" font-size="16.6">Hnweis</text>
<text transform="matrix(1.0657 0 0 1 95.25 1029.1)" font-size="16.6">auf</text>
<text transform="matrix(1.0734 0 0 1 123.81 1029.1)" font-size="16.6">Maximum</text>
<text transform="matrix(1.1376 0 0 1 206.12 1029.1)" font-size="16.6">bzw.</text>
<text transform="matrix(1.1018 0 0 1 246.07 1029.1)" font-size="16.6">Minimum</text>
<text transform="matrix(1.1268 0 0 1 323.63 1029.1)" font-size="16.6">im</text>
<text transform="matrix(1.0512 0 0 1 347.45 1029.1)" font-size="16.6">jeweiligen</text>
<text transform="matrix(1.0346 0 0 1 428.76 1029.1)" font-size="16.6">Ländervergleich</text>
<text transform="matrix(1.0212 0 0 1 559.51 1029.1)" font-size="16.6">(w</text>
<text transform="matrix(1.0679 0 0 1 582.19 1029.1)" font-size="16.6">best,</text>
<text transform="matrix(0.9719 0 0 1 625.05 1029.1)" font-size="16.6">w</text>
<text transform="matrix(1.0113 0 0 1 642.38 1029.1)" font-size="16.6">zug</text>
<text transform="matrix(1.1063 0 0 1 671.85 1029.1)" font-size="16.6">m</text>
<text transform="matrix(1.0495 0 0 1 690.71 1029.1)" font-size="16.6">best</text>
<text transform="matrix(1.1154 0 0 1 727.74 1029.1)" font-size="16.6">usw.)</text>
<text transform="matrix(1.0453 0 0 1 5.99 1058)" font-size="16.6">Quelle:</text>
<text transform="matrix(1.0270 0 0 1 64.87 1058)" font-size="16.6">Deutsche</text>
<text transform="matrix(1.0380 0 0 1 140.85 1058)" font-size="16.6">Rentenversicherung</text>
<text transform="matrix(1.0124 0 0 1 298.01 1058)" font-size="16.6">(DRV);</text>
<text transform="matrix(0.9947 0 0 1 355.18 1058)" font-size="16.6">eigene</text>
<text transform="matrix(1.0316 0 0 1 409.96 1058)" font-size="16.6">Berechnungen</text>
<text transform="matrix(1.0652 0 0 1 525.27 1058)" font-size="16.6">(auf</text>
<text transform="matrix(0.9697 0 0 1 559.74 1058)" font-size="16.6">Basis</text>
<text transform="matrix(1.0826 0 0 1 601.88 1058)" font-size="16.6">nicht</text>
<text transform="matrix(1.0515 0 0 1 645.05 1058)" font-size="16.6">gerundeter</text>
<text transform="matrix(1.0320 0 0 1 734.46 1058)" font-size="16.6">Zahlbeträge</text>
<text transform="matrix(1.0206 0 0 1 830.37 1058)" font-size="16.6">-</text>
<text transform="matrix(1.0542 0 0 1 839.23 1058)" font-size="16.6">Rundungsdifferenzen</text>
<text transform="matrix(1.0439 0 0 1 1008.02 1058)" font-size="16.6">möglich)</text>
<text transform="matrix(1.0426 0 0 1 5.75 1087)" font-size="16.6">Bremer</text>
<text transform="matrix(1.0609 0 0 1 66.6 1087)" font-size="16.6" font-weight="bold">Institut</text>
<text transform="matrix(1.1145 0 0 1 129.7 1087)" font-size="16.6">für</text>
<text transform="matrix(0.9093 0 0 1 155.46 1087)" font-size="16.6" font-weight="bold">Arbeit</text>
<text transform="matrix(1.1086 0 0 1 199.31 1087)" font-size="16.6">smarktforschung</text>
<text transform="matrix(1.0922 0 0 1 337.67 1087)" font-size="16.6">und</text>
<text transform="matrix(0.9351 0 0 1 371 1087)" font-size="16.6" font-weight="bold">Jugend</text>
<text transform="matrix(1.0858 0 0 1 425.97 1087)" font-size="16.6">berufshilfe</text>
<text transform="matrix(0.7925 0 0 1 512.28 1087)" font-size="16.6">(</text>
<text transform="matrix(0.9594 0 0 1 517.9 1087)" font-size="16.6" font-weight="bold" fill="#C00000">BIAJ.de</text>
<text transform="matrix(0.8139 0 0 1 578.3 1087)" font-size="16.6">)</text>
</g>
<g font-family='"DejaVu Sans", "Liberation Sans", sans-serif' fill="#FF0000" stroke="#FF0000" stroke-width="0.35">
<text transform="matrix(1.0822 0 0 1 1042.59 126.23)" font-size="15.57">*</text>
<text transform="matrix(1.0822 0 0 1 1064.64 147.18)" font-size="15.57">*</text>
<text transform="matrix(1.0822 0 0 1 1352.69 173.23)" font-size="15.57">*</text>
<text transform="matrix(1.0038 0 0 1 1410.88 200.3)" font-size="17.14" font-weight="bold" stroke-width="0.7">*</text>
<text transform="matrix(1.0822 0 0 1 1433.59 215.23)" font-size="15.57">*</text>
<text transform="matrix(1.0822 0 0 1 1375.64 232.23)" font-size="15.57">*</text>
<text transform="matrix(1.0822 0 0 1 1226.64 313.23)" font-size="15.57">*</text>
<text transform="matrix(1.0038 0 0 1 1203.93 335.4)" font-size="17.14" font-weight="bold" stroke-width="0.7">*</text>
<text transform="matrix(1.0822 0 0 1 1226.64 733.29)" font-size="15.57">*</text>
<text transform="matrix(1.0822 0 0 1 1204.69 802.33)" font-size="15.57">*</text>
<text transform="matrix(1.0822 0 0 1 1537.69 598.23)" font-size="15.57">*</text>
<text transform="matrix(1.0822 0 0 1 1514.59 634.26)" font-size="15.57">*</text>
<text transform="matrix(1.0822 0 0 1 7.44 1025.08)" font-size="15.57">*</text>
</g>
</svg>
</body></html>
